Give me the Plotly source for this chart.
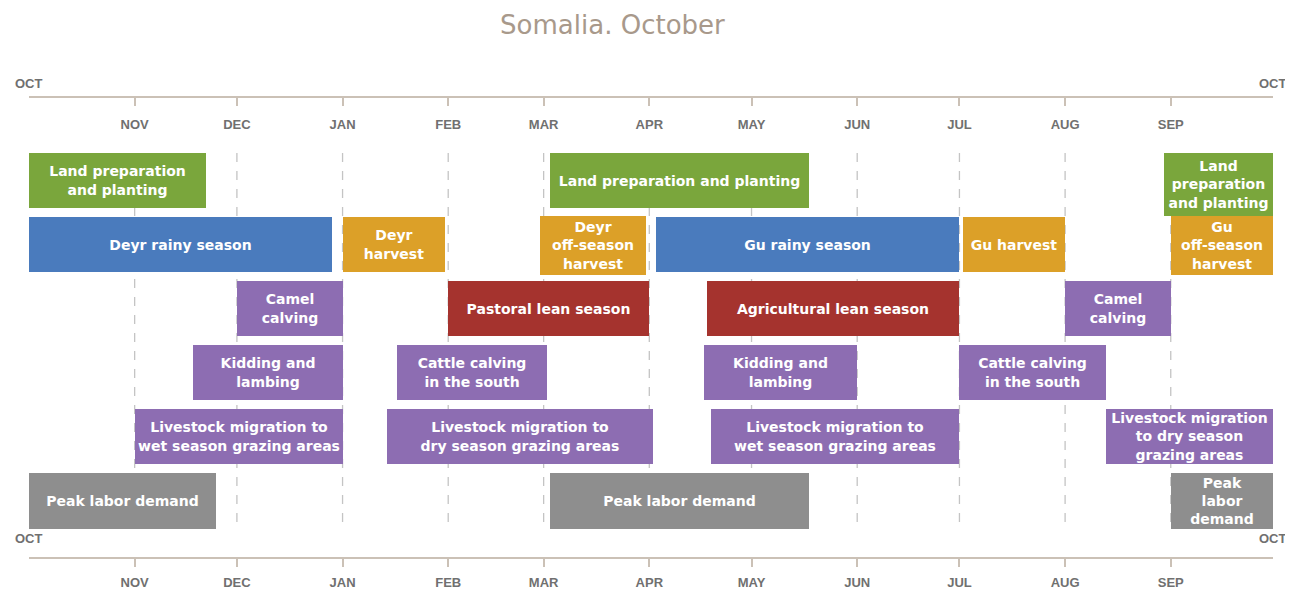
import plotly.graph_objects as go
import pandas as pd

# ---------------- data ----------------
title_text = "Somalia. October"

month_starts = ["2020-11-01", "2020-12-01", "2021-01-01", "2021-02-01", "2021-03-01",
                "2021-04-01", "2021-05-01", "2021-06-01", "2021-07-01", "2021-08-01",
                "2021-09-01"]
month_labels = ["NOV", "DEC", "JAN", "FEB", "MAR", "APR", "MAY", "JUN", "JUL", "AUG", "SEP"]
period_ends = ["2020-10-01", "2021-10-01"]
period_end_label = "OCT"

activities = [
    "Land preparation<br>and planting",
    "Land preparation and planting",
    "Land<br>preparation<br>and planting",
    "Deyr rainy season",
    "Deyr<br>harvest",
    "Deyr<br>off-season<br>harvest",
    "Gu rainy season",
    "Gu harvest",
    "Gu<br>off-season<br>harvest",
    "Camel<br>calving",
    "Pastoral lean season",
    "Agricultural lean season",
    "Camel<br>calving",
    "Kidding and<br>lambing",
    "Cattle calving<br>in the south",
    "Kidding and<br>lambing",
    "Cattle calving<br>in the south",
    "Livestock migration to<br>wet season grazing areas",
    "Livestock migration to<br>dry season grazing areas",
    "Livestock migration to<br>wet season grazing areas",
    "Livestock migration<br>to dry season<br>grazing areas",
    "Peak labor demand",
    "Peak labor demand",
    "Peak<br>labor<br>demand",
]
starts = [
    "2020-10-01", "2021-03-03", "2021-08-30",
    "2020-10-01", "2021-01-01", "2021-02-28", "2021-04-03", "2021-07-02", "2021-09-01",
    "2020-12-01", "2021-02-01", "2021-04-18", "2021-08-01",
    "2020-11-18", "2021-01-17", "2021-04-17", "2021-07-01",
    "2020-11-01", "2021-01-14", "2021-04-19", "2021-08-13",
    "2020-10-01", "2021-03-03", "2021-09-01",
]
ends = [
    "2020-11-22", "2021-05-18", "2021-10-01",
    "2020-12-29", "2021-01-31", "2021-03-31", "2021-07-01", "2021-08-01", "2021-10-01",
    "2021-01-01", "2021-04-01", "2021-07-01", "2021-09-01",
    "2021-01-01", "2021-03-02", "2021-06-01", "2021-08-13",
    "2021-01-01", "2021-04-02", "2021-07-01", "2021-10-01",
    "2020-11-25", "2021-05-18", "2021-10-01",
]
lanes = [0, 0, 0,
         1, 1, 1, 1, 1, 1,
         2, 2, 2, 2,
         3, 3, 3, 3,
         4, 4, 4, 4,
         5, 5, 5]
kinds = ["planting", "planting", "planting",
         "rain", "harvest", "harvest", "rain", "harvest", "harvest",
         "livestock", "lean", "lean", "livestock",
         "livestock", "livestock", "livestock", "livestock",
         "livestock", "livestock", "livestock", "livestock",
         "labor", "labor", "labor"]

# ---------------- style ----------------
colors = {
    "planting": "#7aa63c",
    "rain": "#4a7bbd",
    "harvest": "#dca028",
    "lean": "#a5332e",
    "livestock": "#8d6db2",
    "labor": "#8e8e8e",
}
BAR_H = 0.86
# (shift, height) for the few taller boxes
special = {2: (0.06, 0.98), 5: (0.02, 0.92), 8: (0.02, 0.92)}

axis_col = "#cbc1b6"
tick_font = dict(family="Liberation Sans, Arial", size=13, color="#707070", weight="bold")
bar_font = dict(family="DejaVu Sans", size=14, color="white", weight="bold")

s = pd.to_datetime(starts)
e = pd.to_datetime(ends)
dur_ms = [(b - a).total_seconds() * 1000 for a, b in zip(s, e)]
ys = [ln + special.get(i, (0, BAR_H))[0] for i, ln in enumerate(lanes)]
ws = [special.get(i, (0, BAR_H))[1] for i in range(len(lanes))]

fig = go.Figure()
fig.add_trace(go.Bar(
    orientation="h",
    y=ys,
    base=starts,
    x=dur_ms,
    width=ws,
    marker=dict(color=[colors[k] for k in kinds], line=dict(width=0)),
    text=activities,
    textposition="inside",
    insidetextanchor="middle",
    textangle=0,
    textfont=bar_font,
    constraintext="none",
    cliponaxis=False,
    hoverinfo="skip",
    showlegend=False,
))
# invisible trace for the top axis
fig.add_trace(go.Scatter(x=month_starts, y=[None] * len(month_starts), xaxis="x2",
                         mode="markers", showlegend=False, hoverinfo="skip"))

# dashed month separators
for d in month_starts:
    fig.add_shape(type="line", xref="x", yref="y", x0=d, x1=d, y0=-0.43, y1=5.42,
                  line=dict(color="#c4c4c4", width=1.3, dash="dash"), layer="below")

# OCT end labels
for d in period_ends:
    fig.add_annotation(x=d, xref="x", y=1, yref="paper", yanchor="bottom", yshift=5,
                       text=period_end_label, showarrow=False, font=tick_font)
    fig.add_annotation(x=d, xref="x", y=0, yref="paper", yanchor="bottom", yshift=9,
                       text=period_end_label, showarrow=False, font=tick_font)

# the page body has an 8px margin: the figure is sized/offset to compensate
W, H = 1285, 583
xr = [period_ends[0], period_ends[1]]
fig.update_layout(
    width=W, height=H, autosize=False,
    margin=dict(l=21, r=20, t=90, b=H - 90 - 459, autoexpand=False),
    plot_bgcolor="white", paper_bgcolor="white",
    title=dict(text=title_text, x=0.469, xref="paper", xanchor="center",
               y=1 - 17 / H, yref="container", yanchor="middle",
               font=dict(family="DejaVu Sans", size=26, color="#a8998b")),
    uniformtext=dict(minsize=14, mode="show"),
    bargap=0,
    xaxis=dict(type="date", range=xr, tickmode="array", tickvals=month_starts, ticktext=month_labels,
               ticks="outside", ticklen=8, tickwidth=1.5, tickcolor=axis_col,
               showline=True, linecolor=axis_col, linewidth=2, showgrid=False, zeroline=False,
               tickfont=tick_font, ticklabelstandoff=4, automargin=False),
    xaxis2=dict(type="date", overlaying="x", matches="x", side="top", range=xr,
                tickmode="array", tickvals=month_starts, ticktext=month_labels,
                ticks="inside", ticklen=8, tickwidth=1.5, tickcolor=axis_col,
                ticklabelposition="inside", ticklabelstandoff=14, showline=True,
                linecolor=axis_col, linewidth=2, automargin=False,
                showgrid=False, zeroline=False, tickfont=tick_font),
    yaxis=dict(range=[5.874, -1.287], visible=False, showgrid=False, zeroline=False,
               automargin=False),
)

fig.write_html("out.html")
